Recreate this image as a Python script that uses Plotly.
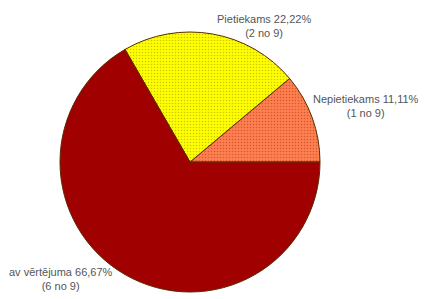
import plotly.graph_objects as go

labels = ["Nepietiekams", "Pietiekams", "av vērtējuma"]
counts = [1, 2, 6]
total = 9
pcts = ["11,11%", "22,22%", "66,67%"]
colors = ["#FF7F50", "#FFFF00", "#A00000"]
dot_colors = ["#D05A32", "#C8C800", "#A00000"]
shapes = [".", ".", ""]

fig = go.Figure(go.Pie(
    labels=labels,
    values=counts,
    sort=False,
    direction="counterclockwise",
    rotation=50,
    textinfo="none",
    hoverinfo="label+percent",
    marker=dict(
        colors=colors,
        line=dict(color="#5a2a00", width=1),
        pattern=dict(shape=shapes, fgcolor=dot_colors, bgcolor=colors,
                     size=3, solidity=0.2),
    ),
    domain=dict(x=[60 / 425, 320 / 425], y=[7 / 299, 267 / 299]),
    showlegend=False,
))

# label placements (pixel centres)
label_pos = [(366, 91), (264, 11), (61, 264)]
for lab, c, p, (px, py) in zip(labels, counts, pcts, label_pos):
    fig.add_annotation(
        x=px / 425, y=1 - py / 299, xref="paper", yref="paper",
        text=f"{lab} {p}<br>({c} no {total})",
        showarrow=False, xanchor="center", yanchor="top",
        font=dict(family="Liberation Sans", size=11, color="#555555"),
        align="center",
    )

fig.update_layout(
    width=425, height=299,
    margin=dict(l=0, r=0, t=0, b=0),
    paper_bgcolor="white", plot_bgcolor="white",
)
fig.write_html("out.html", config={"displayModeBar": False},
               post_script="document.body.style.margin='0px';")
